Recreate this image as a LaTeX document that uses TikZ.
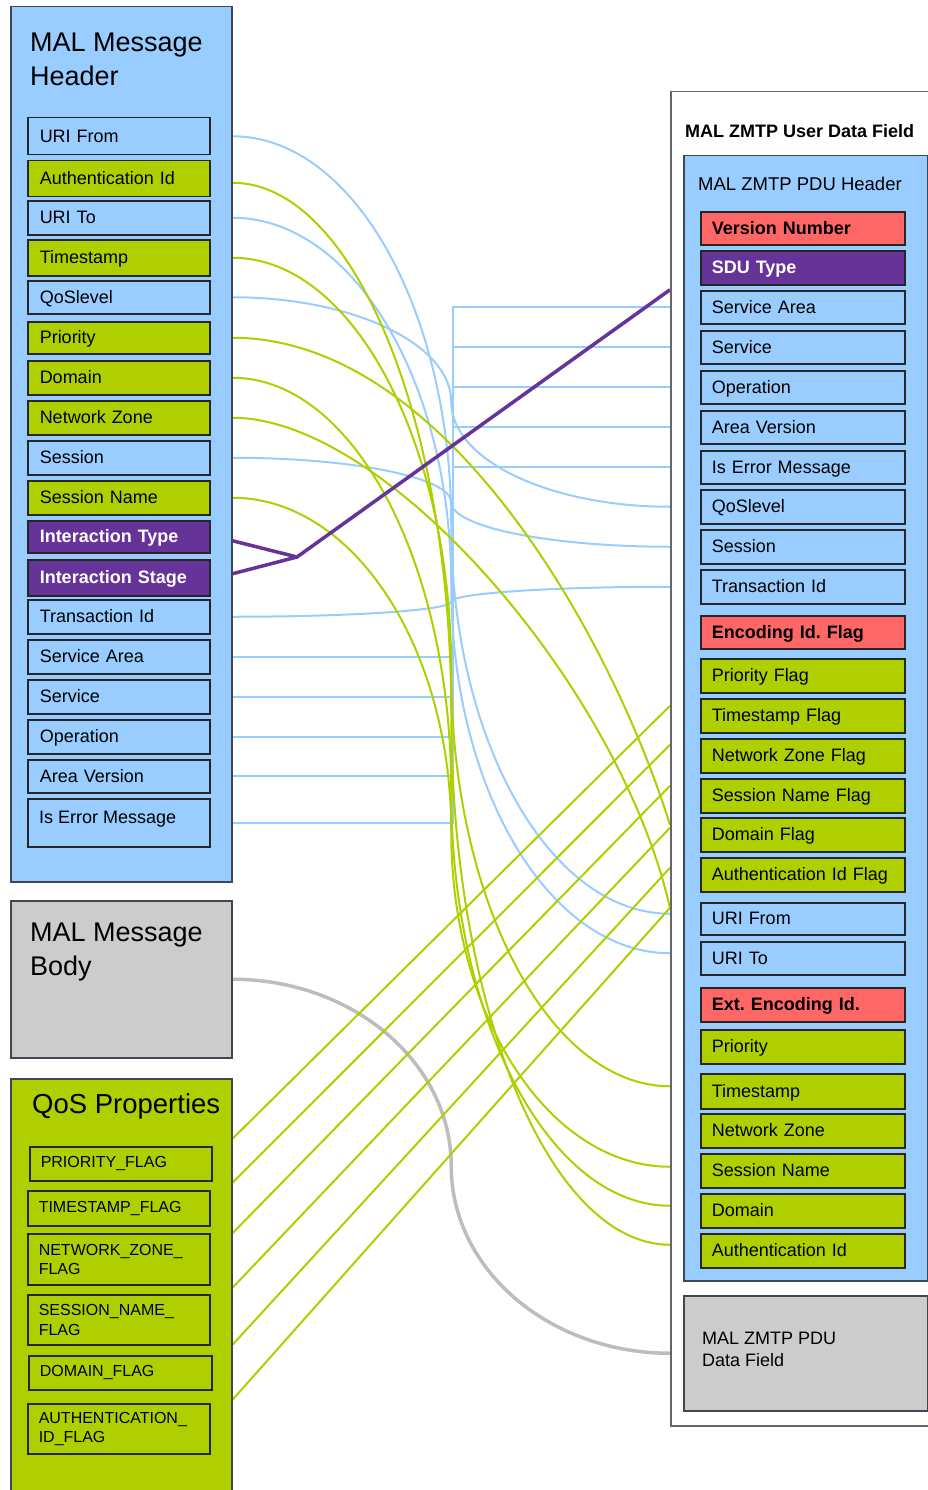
\documentclass[tikz,border=0pt]{standalone}
\usepackage{fontspec}
\setmainfont{Liberation Sans}
\usetikzlibrary{calc}
\frenchspacing
\definecolor{lblue}{HTML}{99CCFF}
\definecolor{lgreen}{HTML}{AFCF00}
\definecolor{mpurple}{HTML}{663399}
\definecolor{mred}{HTML}{FF6666}
\definecolor{mgray}{HTML}{CCCCCC}
\definecolor{cgray}{HTML}{BDBDBD}
\definecolor{cframe}{HTML}{3E4852}
\definecolor{oframe}{HTML}{666666}
\definecolor{iframe}{HTML}{262626}
\pgfdeclarelayer{bg}
\pgfsetlayers{bg,main}
\newcommand{\sconn}[3]{%
  \draw[#1] let \p1=(#2), \p2=(#3), \p3=($(\p1)!0.5!(\p2)$) in
    (\p1) .. controls ($(\p1)!0.5523!(\x3,\y1)$) and ($(\p3)!0.5523!(\x3,\y1)$) .. (\p3)
          .. controls ($(\p3)!0.5523!(\x3,\y2)$) and ($(\p2)!0.5523!(\x3,\y2)$) .. (\p2);}
\newcommand{\litem}[5]{\node[itembox,#2,minimum height=#4,text width=158,inner xsep=12] (#1) at (27,#3) {#5};}
\newcommand{\ritem}[5]{\node[itembox,#2,minimum height=#4,text width=182,inner xsep=11] (#1) at (700,#3) {#5};}
\begin{document}
\begin{tikzpicture}[x=1pt,y=-1pt,
  container/.style={draw=cframe,line width=1.5,anchor=north west,inner sep=0},
  itembox/.style={draw=iframe,line width=1.5,anchor=north west,inner ysep=0,align=left,
    text height=12.6,text depth=0.8,font=\fontsize{18}{21}\selectfont},
  bluef/.style={fill=lblue},
  greenf/.style={fill=lgreen},
  purplef/.style={fill=mpurple,text=white,font=\fontsize{18}{21}\selectfont\bfseries},
  redf/.style={fill=mred,font=\fontsize{18}{21}\selectfont\bfseries},
  qitem/.style={draw=iframe,line width=1.5,anchor=north west,inner ysep=0,inner xsep=11,
    align=left,fill=lgreen,font=\fontsize{16}{19.5}\selectfont},
  bigtitle/.style={anchor=north west,inner sep=0,align=left,font=\fontsize{27}{34}\selectfont},
  bline/.style={draw=lblue,line width=2},
  gline/.style={draw=lgreen,line width=2},
  pline/.style={draw=mpurple,line width=3.5},
  cline/.style={draw=cgray,line width=3.5}]
\useasboundingbox (0,0) rectangle (928,1490);

% ---------- left containers ----------
\node[container,fill=lblue,minimum width=221,minimum height=875] (hdr) at (10,6) {};
\node[bigtitle] (hdrT) at (30,32.4) {MAL Message\\Header};
\node[container,fill=mgray,minimum width=221,minimum height=157] (body) at (10,900) {};
\node[bigtitle] (bodyT) at (30,922.9) {MAL Message\\Body};
\node[container,fill=lgreen,minimum width=221,minimum height=450] (qos) at (10,1078) {};
\node[anchor=base west,inner sep=0,font=\fontsize{27.5}{34}\selectfont] (qosT) at (32,1113.5) {QoS Properties};

% ---------- left header items ----------
\litem{lUriFrom}{bluef}{117}{37}{URI From}
\litem{lAuthId}{greenf}{160}{36}{Authentication Id}
\litem{lUriTo}{bluef}{200}{34}{URI To}
\litem{lTimestamp}{greenf}{239}{36}{Timestamp}
\litem{lQos}{bluef}{280}{33}{QoSlevel}
\litem{lPriority}{greenf}{321}{32}{Priority}
\litem{lDomain}{greenf}{360}{34}{Domain}
\litem{lNetZone}{greenf}{400}{34}{Network Zone}
\litem{lSession}{bluef}{440}{34}{Session}
\litem{lSessName}{greenf}{480}{34}{Session Name}
\litem{lIntType}{purplef}{520}{32}{Interaction Type}
\litem{lIntStage}{purplef}{559}{36}{Interaction Stage}
\litem{lTransId}{bluef}{599}{34}{Transaction Id}
\litem{lServArea}{bluef}{639}{34}{Service Area}
\litem{lService}{bluef}{679}{34}{Service}
\litem{lOperation}{bluef}{719}{34}{Operation}
\litem{lAreaVer}{bluef}{759}{33}{Area Version}
\litem{lIsErr}{bluef}{798}{48}{}
\node[anchor=base west,inner sep=0,font=\fontsize{18}{21}\selectfont] (lIsErrT) at ($(lIsErr.north west)+(12,25)$) {Is Error Message};

% ---------- QoS items ----------
\node[qitem,text width=160,minimum height=34] (qPrio) at (29,1146) {PRIORITY\_FLAG};
\node[qitem,text width=160,minimum height=35] (qTs) at (27,1190) {TIMESTAMP\_FLAG};
\node[qitem,text width=160,minimum height=51] (qNz) at (27,1233) {NETWORK\_ZONE\_\\FLAG};
\node[qitem,text width=160,minimum height=50] (qSn) at (27,1294) {SESSION\_NAME\_\\FLAG};
\node[qitem,text width=161,minimum height=34] (qDom) at (28,1355) {DOMAIN\_FLAG};
\node[qitem,text width=160,minimum height=50] (qAuth) at (27,1403) {AUTHENTICATION\_\\ID\_FLAG};

% ---------- right containers ----------
\node[container,draw=oframe,fill=white,minimum width=270,minimum height=1334] (outer) at (670,91) {};
\node[anchor=base west,inner sep=0,font=\fontsize{18}{21}\selectfont\bfseries] (outerT) at (685,138) {MAL ZMTP User Data Field};
\node[container,fill=lblue,minimum width=244,minimum height=1125] (pduhdr) at (683,155) {};
\node[anchor=base west,inner sep=0,font=\fontsize{18.5}{21}\selectfont] (pduhdrT) at (698,190) {MAL ZMTP PDU Header};
\node[container,fill=mgray,minimum width=244,minimum height=115] (pdudata) at (683,1295) {};
\node[anchor=north west,inner sep=0,align=left,font=\fontsize{18}{22}\selectfont] (pdudataT) at (702,1331.6) {MAL ZMTP PDU\\Data Field};

% ---------- right items ----------
\ritem{rVersion}{redf}{211}{33}{Version Number}
\ritem{rSdu}{purplef}{250}{34}{SDU Type}
\ritem{rServArea}{bluef}{290}{33}{Service Area}
\ritem{rService}{bluef}{330}{33}{Service}
\ritem{rOperation}{bluef}{370}{33}{Operation}
\ritem{rAreaVer}{bluef}{410}{33}{Area Version}
\ritem{rIsErr}{bluef}{450}{33}{Is Error Message}
\ritem{rQos}{bluef}{489}{34}{QoSlevel}
\ritem{rSession}{bluef}{529}{34}{Session}
\ritem{rTransId}{bluef}{569}{34}{Transaction Id}
\ritem{rEncFlag}{redf}{615}{33}{Encoding Id. Flag}
\ritem{rPrioFlag}{greenf}{658}{34}{Priority Flag}
\ritem{rTsFlag}{greenf}{698}{34}{Timestamp Flag}
\ritem{rNzFlag}{greenf}{738}{34}{Network Zone Flag}
\ritem{rSnFlag}{greenf}{778}{34}{Session Name Flag}
\ritem{rDomFlag}{greenf}{817}{34}{Domain Flag}
\ritem{rAuthFlag}{greenf}{857}{34}{Authentication Id Flag}
\ritem{rUriFrom}{bluef}{902}{32}{URI From}
\ritem{rUriTo}{bluef}{941}{33}{URI To}
\ritem{rExtEnc}{redf}{987}{34}{Ext. Encoding Id.}
\ritem{rPriority}{greenf}{1029}{34}{Priority}
\ritem{rTimestamp}{greenf}{1073}{35}{Timestamp}
\ritem{rNetZone}{greenf}{1113}{34}{Network Zone}
\ritem{rSessName}{greenf}{1153}{34}{Session Name}
\ritem{rDomain}{greenf}{1193}{34}{Domain}
\ritem{rAuthId}{greenf}{1233}{34}{Authentication Id}

% ---------- connectors ----------
\coordinate (bus) at (453,0);
\coordinate (pj) at (297,557);
\coordinate (ePrio) at (670,825);
\coordinate (eNz) at (670,908);
\begin{pgfonlayer}{bg}
\foreach \a/\b in {lServArea/rServArea,lService/rService,lOperation/rOperation,lAreaVer/rAreaVer,lIsErr/rIsErr}
  \draw[bline] (hdr.east |- \a) -| (bus |- \b) -- (outer.west |- \b);
\sconn{bline}{hdr.east |- lUriFrom}{$(outer.west |- rUriFrom)+(0,-5)$}
\sconn{bline}{hdr.east |- lUriTo}{$(outer.west |- rUriTo)+(0,-5)$}
\sconn{bline}{hdr.east |- lQos}{outer.west |- rQos}
\sconn{bline}{hdr.east |- lSession}{outer.west |- rSession}
\sconn{bline}{hdr.east |- lTransId}{outer.west |- rTransId}
\sconn{gline}{$(hdr.east |- lAuthId)+(0,4)$}{$(outer.west |- rAuthId)+(0,-6)$}
\sconn{gline}{hdr.east |- lTimestamp}{$(outer.west |- rTimestamp)+(0,-5)$}
\sconn{gline}{hdr.east |- lDomain}{$(outer.west |- rDomain)+(0,-5)$}
\sconn{gline}{hdr.east |- lSessName}{$(outer.west |- rSessName)+(0,-4)$}
\draw[gline] (hdr.east |- lPriority) .. controls +(215,0) and +(-56,-181) .. (ePrio);
\draw[gline] (hdr.east |- lNetZone) .. controls +(155,0) and +(-50,-220) .. (eNz);
\draw[pline] ($(hdr.east |- lIntType)+(0,4)$) -- (pj) -- ($(outer.west |- rSdu)+(0,22)$);
\draw[pline] ($(hdr.east |- lIntStage)+(0,-4)$) -- (pj);
\sconn{cline}{body.east}{outer.west |- pdudata}
\draw[gline] ($(qos.east |- qPrio)+(0,-25)$) -- ($(outer.west |- rPrioFlag)+(0,30)$);
\draw[gline] ($(qos.east |- qTs)+(0,-25.5)$) -- ($(outer.west |- rTsFlag)+(0,29)$);
\draw[gline] ($(qos.east |- qNz)+(0,-26)$) -- ($(outer.west |- rNzFlag)+(0,30)$);
\draw[gline] ($(qos.east |- qSn)+(0,-32)$) -- ($(outer.west |- rSnFlag)+(0,32)$);
\draw[gline] ($(qos.east |- qDom)+(0,-28)$) -- ($(outer.west |- rDomFlag)+(0,33)$);
\draw[gline] ($(qos.east |- qAuth)+(0,-29)$) -- ($(outer.west |- rAuthFlag)+(0,33)$);
\end{pgfonlayer}
\end{tikzpicture}
\end{document}
